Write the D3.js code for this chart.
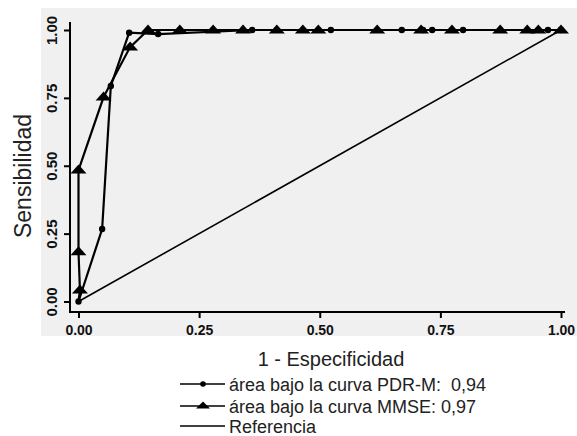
<!DOCTYPE html>
<html>
<head>
<meta charset="utf-8">
<script src="https://cdn.jsdelivr.net/npm/d3@7"></script>
<style>
  body { margin: 0; background: #fff; }
  svg { display: block; }
  .tick text { font-weight: bold; fill: #111; }
</style>
</head>
<body>
<svg id="chart" width="577" height="436"></svg>
<script>
// ROC data
const pdrFpr = [0, 0.049, 0.067, 0.105, 0.165, 0.36, 0.523, 0.670, 0.714, 0.733, 0.797, 0.973, 1.0];
const pdrTpr = [0, 0.267, 0.794, 0.99, 0.985, 1, 1, 1, 1, 1, 1, 1, 1];

const mmseFpr = [0, 0.003, 0, 0, 0.052, 0.107, 0.144, 0.21, 0.279, 0.341, 0.411, 0.465, 0.497, 0.619, 0.710, 0.774, 0.874, 0.930, 0.953, 1.0];
const mmseTpr = [0, 0.042, 0.183, 0.484, 0.753, 0.937, 1, 1, 1, 1, 1, 1, 1, 1, 1, 1, 1, 1, 1, 1];

const refFpr = [0, 1];
const refTpr = [0, 1];

const tickValues = [0, 0.25, 0.5, 0.75, 1];
const xTitle = '1 - Especificidad';
const yTitle = 'Sensibilidad';
const legendLabels = ['área bajo la curva PDR-M:  0,94', 'área bajo la curva MMSE: 0,97', 'Referencia'];

const svg = d3.select('#chart');

const x = d3.scaleLinear().domain([0, 1]).range([78.5, 561]);
const y = d3.scaleLinear().domain([0, 1]).range([301.5, 30]);

// scanned grey panel
svg.append('rect')
    .attr('x', 41).attr('y', 8)
    .attr('width', 536).attr('height', 328)
    .attr('fill', '#f0f0f0');

// axes (L shaped frame, outward ticks)
const xAxis = d3.axisBottom(x).tickValues(tickValues).tickSize(6).tickFormat(d3.format('.2f'));
const yAxis = d3.axisLeft(y).tickValues(tickValues).tickSize(6).tickFormat(d3.format('.2f'));

const gx = svg.append('g').attr('transform', 'translate(0,312)').call(xAxis);
gx.select('.domain').remove();
gx.selectAll('.tick line').attr('stroke-width', 2);
gx.selectAll('.tick text')
    .attr('font-family', 'Liberation Sans, Arial, sans-serif')
    .attr('font-size', 14)
    .attr('dy', null)
    .attr('y', 23);

const gy = svg.append('g').attr('transform', 'translate(70,0)').call(yAxis);
gy.select('.domain').remove();
gy.selectAll('.tick line').attr('stroke-width', 2);
gy.selectAll('.tick text')
    .attr('font-family', 'Liberation Sans Narrow, Arial Narrow, sans-serif')
    .attr('font-size', 15)
    .attr('text-anchor', 'middle')
    .attr('dy', null)
    .attr('x', null)
    .attr('transform', 'translate(-13,0) rotate(-90)');

svg.append('path')
    .attr('d', 'M70,22 V312 H565')
    .attr('fill', 'none')
    .attr('stroke', '#000')
    .attr('stroke-width', 2);

// curves
const line = d3.line().x(d => x(d[0])).y(d => y(d[1]));
const tri = 'M0,-5.5 L8,3.5 L-8,3.5 Z';

const refData = d3.zip(refFpr, refTpr);
const pdrData = d3.zip(pdrFpr, pdrTpr);
const mmseData = d3.zip(mmseFpr, mmseTpr);

svg.append('path')
    .attr('d', line(refData))
    .attr('fill', 'none').attr('stroke', '#000').attr('stroke-width', 1.6);

svg.append('path')
    .attr('d', line(mmseData))
    .attr('fill', 'none').attr('stroke', '#000').attr('stroke-width', 2.2);

svg.append('path')
    .attr('d', line(pdrData))
    .attr('fill', 'none').attr('stroke', '#000').attr('stroke-width', 2.2);

svg.append('g').selectAll('path')
    .data(mmseData.filter(d => d[1] > 0))
    .join('path')
    .attr('d', tri)
    .attr('transform', d => `translate(${x(d[0])},${y(d[1])})`)
    .attr('fill', '#000');

svg.append('g').selectAll('circle')
    .data(pdrData)
    .join('circle')
    .attr('cx', d => x(d[0]))
    .attr('cy', d => y(d[1]))
    .attr('r', 3.2)
    .attr('fill', '#000');

// axis titles
svg.append('text')
    .attr('x', 331).attr('y', 366)
    .attr('text-anchor', 'middle')
    .attr('font-family', 'Liberation Sans, Arial, sans-serif')
    .attr('font-size', 20)
    .attr('fill', '#222')
    .text(xTitle);

svg.append('text')
    .attr('transform', 'translate(31,176) rotate(-90)')
    .attr('text-anchor', 'middle')
    .attr('font-family', 'Liberation Sans, Arial, sans-serif')
    .attr('font-size', 23)
    .attr('fill', '#222')
    .text(yTitle);

// legend
const legendRows = [384, 406, 426];
const legend = svg.append('g');
legendLabels.forEach((label, i) => {
    const yy = legendRows[i];
    legend.append('line')
        .attr('x1', 180).attr('x2', 225)
        .attr('y1', yy).attr('y2', yy)
        .attr('stroke', '#000').attr('stroke-width', 1.4);
    if (i === 0) {
        legend.append('circle').attr('cx', 203).attr('cy', yy).attr('r', 2.8).attr('fill', '#000');
    } else if (i === 1) {
        legend.append('path').attr('d', 'M0,-4.5 L7,2.5 L-7,2.5 Z')
            .attr('transform', `translate(203,${yy})`).attr('fill', '#000');
    }
    legend.append('text')
        .attr('x', 229).attr('y', yy + 6.5)
        .attr('font-family', 'Liberation Sans, Arial, sans-serif')
        .attr('font-size', 18)
        .attr('fill', '#222')
        .style('white-space', 'pre')
        .text(label);
});
</script>
</body>
</html>
